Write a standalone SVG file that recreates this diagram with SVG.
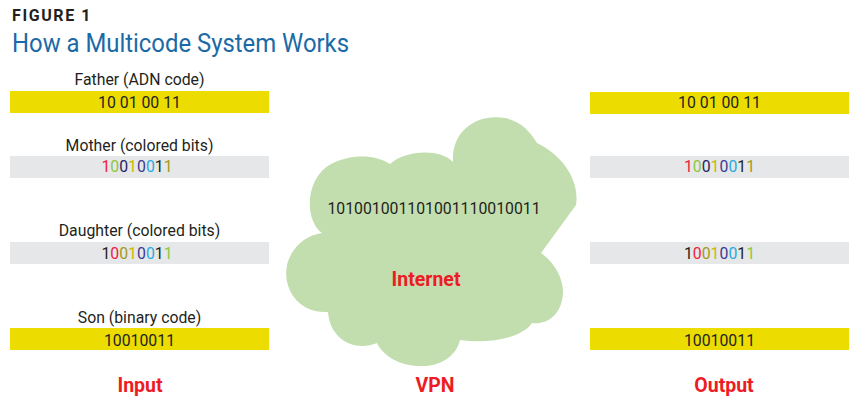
<svg xmlns="http://www.w3.org/2000/svg" width="868" height="410" viewBox="0 0 868 410">
<style>
text{font-family:Roboto,"Liberation Sans",sans-serif;fill:#231f20}
.lbl{font-size:15.8px;text-anchor:middle}
.big{font-size:19.5px;font-weight:bold;fill:#ed1c24;text-anchor:middle}
.yb{fill:#eddc00}
.gb{fill:#e6e7e8}
.r{fill:#ed1c40}.g{fill:#8dc63f}.k{fill:#262262}.y{fill:#c9b800}.o{fill:#a39a1c}.i{fill:#3b3a93}.c{fill:#29abe2}.d{fill:#231f20}
</style>
<text x="12" y="21" style="font-size:16px;font-weight:bold;letter-spacing:1.6px">FIGURE 1</text>
<text x="12" y="52" style="font-size:25px;fill:#1b6aa6" textLength="337" lengthAdjust="spacingAndGlyphs">How a Multicode System Works</text>

<g id="in-father">
<text class="lbl" x="139.5" y="85">Father (ADN code)</text>
<rect class="yb" x="10" y="91" width="259" height="22"/>
<text class="lbl" x="139.5" y="108">10 01 00 11</text>
</g>
<g id="in-mother">
<text class="lbl" x="139.5" y="151">Mother (colored bits)</text>
<rect class="gb" x="10" y="156" width="259" height="22"/>
<text class="lbl" x="137" y="172"><tspan class="r">1</tspan><tspan class="g">0</tspan><tspan class="k">0</tspan><tspan class="y">1</tspan><tspan class="i">0</tspan><tspan class="c">0</tspan><tspan class="d">1</tspan><tspan class="o">1</tspan></text>
</g>
<g id="in-daughter">
<text class="lbl" x="139.5" y="236">Daughter (colored bits)</text>
<rect class="gb" x="10" y="242" width="259" height="22"/>
<text class="lbl" x="137" y="259"><tspan class="d">1</tspan><tspan class="r">0</tspan><tspan class="o">0</tspan><tspan class="y">1</tspan><tspan class="i">0</tspan><tspan class="c">0</tspan><tspan class="d">1</tspan><tspan class="g">1</tspan></text>
</g>
<g id="in-son">
<text class="lbl" x="139.5" y="323">Son (binary code)</text>
<rect class="yb" x="10" y="328" width="259" height="22"/>
<text class="lbl" x="139.5" y="346">10010011</text>
</g>

<g id="cloud">
<path fill="#c3deae" d="M322 233 C304 220 305 178 331 164 C350 154 375 154 390 164 C405 150 440 148 453 162 C451 130 478 113 505 118 C520 121 530 131 537 143 C562 155 580 180 576 205 L541 253 C558 265 566 285 562 300 C559 316 546 325 532 323 C522 338 490 344 460 340 C455 360 435 367 420 366 C400 366 383 356 377 343 C355 352 330 340 328 312 C300 314 282 290 287 265 C292 245 308 235 322 233 Z"/>
<text class="lbl" x="434" y="214">101001001101001110010011</text>
<text class="big" x="426" y="286">Internet</text>
</g>

<g id="out-father">
<rect class="yb" x="590" y="92" width="259" height="22"/>
<text class="lbl" x="719.5" y="108">10 01 00 11</text>
</g>
<g id="out-mother">
<rect class="gb" x="590" y="156" width="259" height="22"/>
<text class="lbl" x="719.5" y="172"><tspan class="r">1</tspan><tspan class="g">0</tspan><tspan class="k">0</tspan><tspan class="y">1</tspan><tspan class="i">0</tspan><tspan class="c">0</tspan><tspan class="d">1</tspan><tspan class="o">1</tspan></text>
</g>
<g id="out-daughter">
<rect class="gb" x="590" y="242" width="259" height="22"/>
<text class="lbl" x="719.5" y="259"><tspan class="d">1</tspan><tspan class="r">0</tspan><tspan class="o">0</tspan><tspan class="y">1</tspan><tspan class="i">0</tspan><tspan class="c">0</tspan><tspan class="d">1</tspan><tspan class="g">1</tspan></text>
</g>
<g id="out-son">
<rect class="yb" x="590" y="328" width="259" height="22"/>
<text class="lbl" x="719.5" y="346">10010011</text>
</g>

<g id="labels">
<text class="big" x="140" y="392">Input</text>
<text class="big" x="435" y="392">VPN</text>
<text class="big" x="724" y="392">Output</text>
</g>
<g id="connectors"/>
</svg>
